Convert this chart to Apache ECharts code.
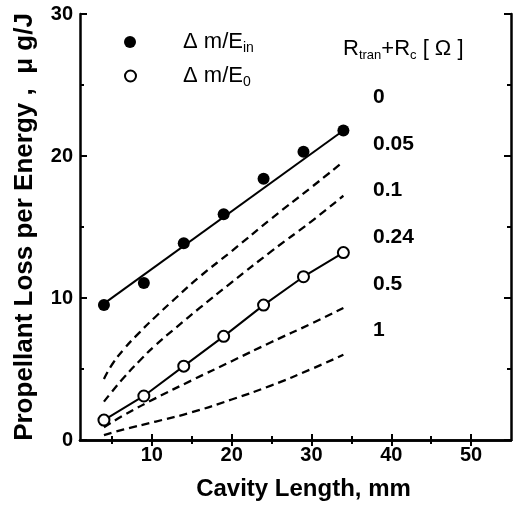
<!DOCTYPE html>
<html>
<head>
<meta charset="utf-8">
<script src="https://cdn.jsdelivr.net/npm/echarts@6/dist/echarts.min.js"></script>
<style>html,body{margin:0;padding:0;background:#fff;}#c{width:513px;height:506px;}</style>
</head>
<body>
<div id="c"></div>
<script>
// ---- data ----
var cavityLen = [4, 9, 14, 19, 24, 29, 34];
var lossPerEin = [9.5, 11.05, 13.85, 15.9, 18.4, 20.3, 21.8];
var lossPerE0 = [1.4, 3.1, 5.2, 7.3, 9.5, 11.5, 13.2];
var fitEin = [[4, 9.6], [34, 21.8]];
var curveR005 = [[4, 4.3], [5, 5.3], [6.5, 6.4], [8.5, 7.6], [10.5, 8.7], [13, 10.0], [16, 11.5], [20, 13.3], [25, 15.6], [30, 17.8], [34, 19.6]];
var curveR01 = [[4, 2.7], [5, 3.4], [6.5, 4.4], [8.5, 5.6], [10.5, 6.7], [13, 7.9], [16, 9.3], [20, 11.1], [25, 13.3], [30, 15.4], [34, 17.2]];
var curveR05 = [[4, 0.9], [6.5, 1.75], [10.5, 2.95], [15, 4.2], [20, 5.55], [25, 6.9], [30, 8.2], [34, 9.3]];
var curveR1 = [[4, 0.35], [6.5, 0.75], [10.5, 1.3], [15, 1.95], [20, 2.85], [25, 3.85], [30, 5.0], [34, 6.0]];
var rLabels = ['0', '0.05', '0.1', '0.24', '0.5', '1'];
var xMajorTicks = [10, 20, 30, 40, 50];
var xMinorTicks = [5, 15, 25, 35, 45];

// ---- chart ----
var FF = '"Liberation Sans", Arial, Helvetica, sans-serif';
var chart = echarts.init(document.getElementById('c'), null, {renderer: 'canvas'});

function pairs(xs, ys) { return xs.map(function (x, i) { return [x, ys[i]]; }); }

var axLine = {show: true, lineStyle: {color: '#000', width: 2.5}};
function xAx(pos, ticks, len, showLine, labels) {
  return {
    type: 'value', position: pos, min: 1, max: 55,
    axisLine: showLine ? axLine : {show: false},
    axisTick: {show: true, inside: true, length: len, lineStyle: {color: '#000', width: 2}, customValues: ticks},
    axisLabel: labels ? {show: true, customValues: ticks, color: '#000', fontSize: 20, fontWeight: 'bold', fontFamily: FF, margin: 5} : {show: false},
    splitLine: {show: false}
  };
}
function yAx(pos, interval, len, showLine, labels) {
  return {
    type: 'value', position: pos, min: 0, max: 30, interval: interval,
    axisLine: showLine ? axLine : {show: false},
    axisTick: {show: true, inside: true, length: len, lineStyle: {color: '#000', width: 2}},
    axisLabel: labels ? {show: true, color: '#000', fontSize: 20, fontWeight: 'bold', fontFamily: FF, margin: 7} : {show: false},
    splitLine: {show: false}
  };
}

var xBottom = xAx('bottom', xMajorTicks, 6, true, true);
xBottom.name = 'Cavity Length, mm';
xBottom.nameLocation = 'middle';
xBottom.nameGap = 37;
xBottom.nameTextStyle = {fontSize: 24, fontWeight: 'bold', color: '#000', fontFamily: FF, padding: [0, 0, 0, 16]};

var yLeft = yAx('left', 10, 7, true, true);
yLeft.name = 'Propellant Loss per Energy ,  \u03bc g/J';
yLeft.nameLocation = 'middle';
yLeft.nameGap = 42;
yLeft.nameTextStyle = {fontSize: 26, fontWeight: 'bold', color: '#000', fontFamily: FF};

var dashed = {color: '#000', width: 2.3, type: [8, 5]};

var legendRich = {
  sp: {width: 42},
  a: {fontSize: 22, color: '#000', fontFamily: FF, lineHeight: 26},
  s: {fontSize: 14, color: '#000', fontFamily: FF, verticalAlign: 'bottom', lineHeight: 21}
};

chart.setOption({
  animation: false,
  backgroundColor: '#fff',
  grid: {left: 80, right: 2, top: 14, bottom: 63, containLabel: false},
  xAxis: [
    xBottom,
    xAx('bottom', xMinorTicks, 4, false, false),
    xAx('top', xMajorTicks, 6, true, false),
    xAx('top', xMinorTicks, 4, false, false)
  ],
  yAxis: [
    yLeft,
    yAx('left', 5, 4, false, false),
    yAx('right', 10, 7, true, false),
    yAx('right', 5, 4, false, false)
  ],
  legend: [
    {
      data: [{name: 'Δm/E_in', icon: 'circle'}], left: 119, top: 26, orient: 'vertical',
      itemWidth: 12, itemHeight: 12, selectedMode: false,
      itemStyle: {color: '#000', opacity: 1},
      formatter: function () { return '{sp|}{a|\u0394 m/E}{s|in}'; },
      textStyle: {rich: legendRich}
    },
    {
      data: [{name: 'Δm/E_0', icon: 'circle'}], left: 119, top: 60, orient: 'vertical',
      itemWidth: 11, itemHeight: 11, selectedMode: false,
      itemStyle: {color: '#fff', borderColor: '#000', borderWidth: 2},
      formatter: function () { return '{sp|}{a|\u0394 m/E}{s|0}'; },
      textStyle: {rich: legendRich}
    }
  ],
  graphic: [
    {
      type: 'text', left: 343, top: 38,
      style: {
        text: '{a|R}{s|tran}{a|+R}{s|c}{a| [ \u03a9 ]}',
        rich: {
          a: {fontSize: 22, fill: '#000', fontFamily: FF, lineHeight: 26},
          s: {fontSize: 13, fill: '#000', fontFamily: FF, verticalAlign: 'bottom', lineHeight: 21}
        }
      }
    }
  ].concat(rLabels.map(function (t, i) {
    return {
      type: 'text', left: 373, top: 87 + i * 46.6,
      style: {text: t, fontSize: 21, fontWeight: 'bold', fill: '#000', fontFamily: FF}
    };
  })),
  series: [
    {type: 'line', data: fitEin, symbol: 'none', lineStyle: {color: '#000', width: 2}, z: 2, silent: true},
    {name: 'Δm/E_in', type: 'scatter', data: pairs(cavityLen, lossPerEin), symbol: 'circle', symbolSize: 12,
      itemStyle: {color: '#000', opacity: 1}, z: 5},
    {name: 'Δm/E_0', type: 'line', data: pairs(cavityLen, lossPerE0), symbol: 'circle', symbolSize: 11, showAllSymbol: true,
      lineStyle: {color: '#000', width: 2}, itemStyle: {color: '#fff', borderColor: '#000', borderWidth: 2}, z: 5},
    {type: 'line', data: curveR005, smooth: 0.5, symbol: 'none', lineStyle: dashed},
    {type: 'line', data: curveR01, smooth: 0.5, symbol: 'none', lineStyle: dashed},
    {type: 'line', data: curveR05, smooth: 0.5, symbol: 'none', lineStyle: dashed},
    {type: 'line', data: curveR1, smooth: 0.5, symbol: 'none', lineStyle: dashed}
  ]
});
</script>
</body>
</html>
